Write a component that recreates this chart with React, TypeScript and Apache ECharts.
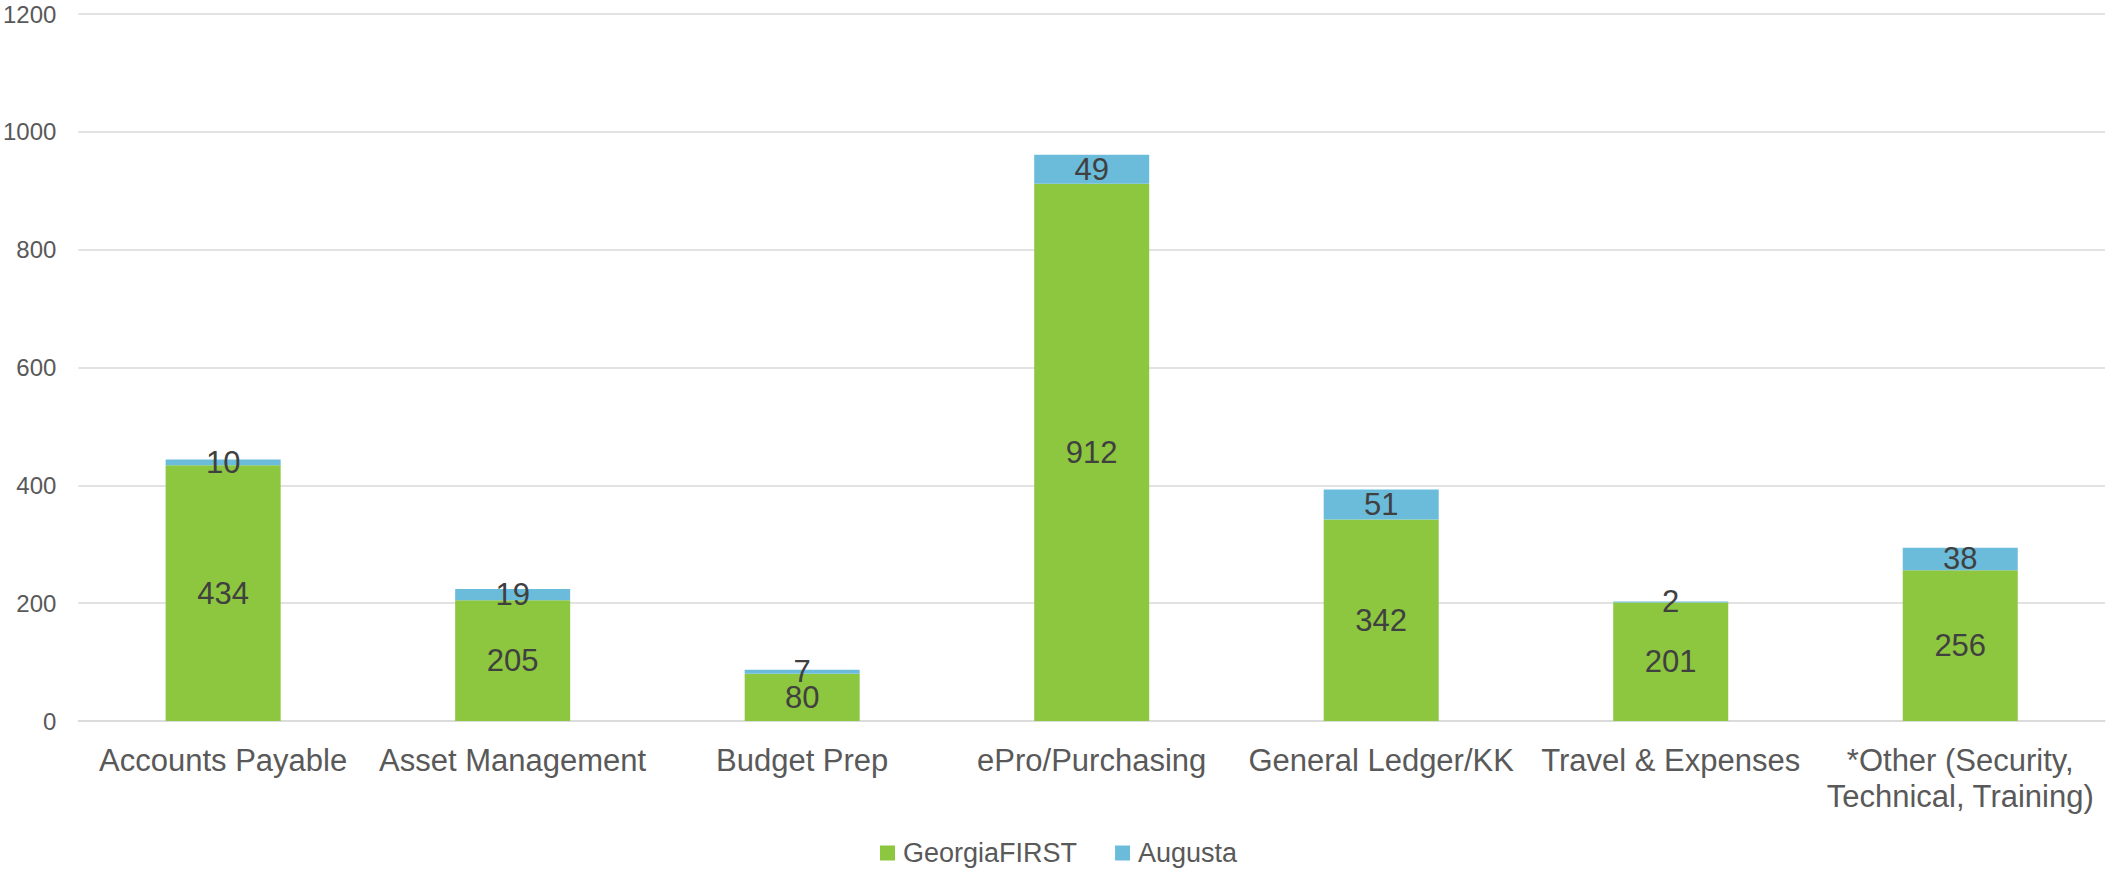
import React, { useEffect, useRef } from "react";
import * as echarts from "echarts";

const categories = [
  "Accounts Payable",
  "Asset Management",
  "Budget Prep",
  "ePro/Purchasing",
  "General Ledger/KK",
  "Travel & Expenses",
  "*Other (Security,\nTechnical, Training)",
];
const georgiaFirst = [434, 205, 80, 912, 342, 201, 256];
const augusta = [10, 19, 7, 49, 51, 2, 38];
const yTicks = { min: 0, max: 1200, interval: 200 };

const FONT = "'Liberation Sans', Arial, sans-serif";

export default function App() {
  const ref = useRef<HTMLDivElement>(null);
  useEffect(() => {
    if (!ref.current) return;
    const chart = echarts.init(ref.current, undefined, { renderer: "svg" });
    const label = {
      show: true,
      position: "inside" as const,
      color: "#404040",
      fontSize: 31,
      fontFamily: FONT,
    };
    chart.setOption({
      animation: false,
      textStyle: { fontFamily: FONT },
      grid: { left: 77, right: 3, top: 14, bottom: 149, containLabel: false },
      legend: {
        left: 880,
        top: 838,
        padding: 0,
        itemWidth: 15,
        itemHeight: 15,
        itemGap: 38,
        icon: "rect",
        textStyle: { fontSize: 27, color: "#595959", fontFamily: FONT, lineHeight: 30, padding: [0, 0, 0, 3] },
        data: ["GeorgiaFIRST", "Augusta"],
      },
      xAxis: {
        type: "category",
        data: categories,
        axisLine: { show: true, lineStyle: { color: "#d9d9d9", width: 1.5 } },
        axisTick: { show: false },
        axisLabel: {
          interval: 0,
          margin: 21,
          fontSize: 31,
          lineHeight: 36,
          color: "#595959",
          fontFamily: FONT,
        },
      },
      yAxis: {
        type: "value",
        min: yTicks.min,
        max: yTicks.max,
        interval: yTicks.interval,
        axisLine: { show: false },
        axisTick: { show: false },
        splitLine: { lineStyle: { color: "#d9d9d9", width: 1.5 } },
        axisLabel: {
          fontSize: 24,
          color: "#595959",
          margin: 22,
          fontFamily: FONT,
          formatter: (v: number) => String(v),
        },
      },
      series: [
        {
          name: "GeorgiaFIRST",
          type: "bar",
          stack: "total",
          data: georgiaFirst,
          barWidth: 115,
          itemStyle: { color: "#8DC63F" },
          label,
        },
        {
          name: "Augusta",
          type: "bar",
          stack: "total",
          data: augusta,
          barWidth: 115,
          itemStyle: { color: "#6BBBDB" },
          label,
        },
      ],
    });
    return () => chart.dispose();
  }, []);
  return (
    <div
      ref={ref}
      style={{ position: "fixed", left: 0, top: 0, width: 2108, height: 870, background: "#fff" }}
    />
  );
}
